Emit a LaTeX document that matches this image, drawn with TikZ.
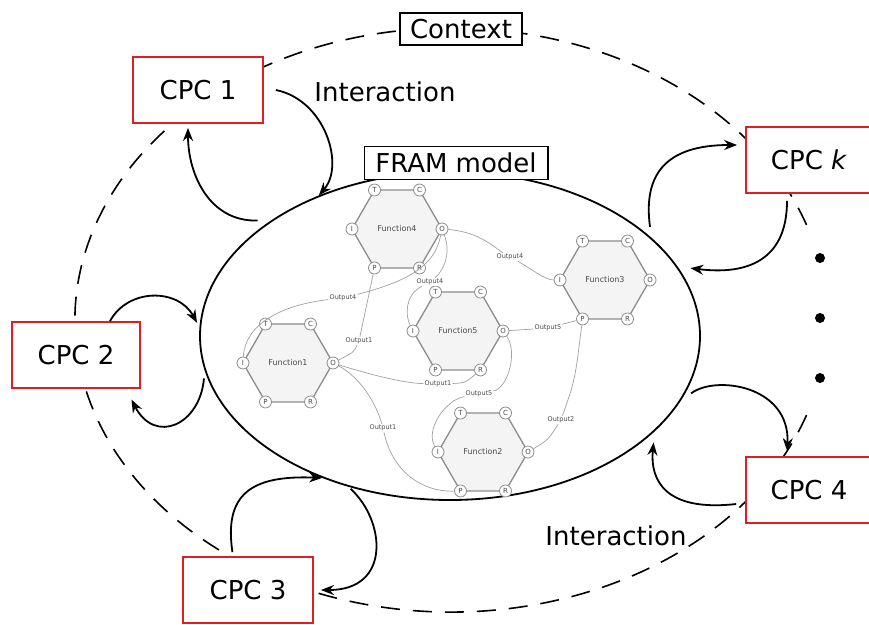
\documentclass[tikz,border=0pt]{standalone}
\usepackage{fontspec}
\setmainfont{DejaVu Sans}
\usetikzlibrary{arrows.meta,calc,shapes.geometric}
\definecolor{cpcred}{HTML}{DC1F26}
\definecolor{hexgray}{HTML}{8C8C8C}
\definecolor{hexfill}{HTML}{F4F4F4}
\definecolor{linkgray}{HTML}{A0A0A0}
\definecolor{textgray}{HTML}{4A4A4A}

\begin{document}
\begin{tikzpicture}[x=1pt,y=-1pt,
    cpc/.style={draw=cpcred,line width=1.8pt,fill=white,minimum width=130pt,
                minimum height=66pt,font=\fontsize{26}{30}\selectfont},
    tag/.style={draw,line width=1.6pt,fill=white,inner xsep=10pt,inner ysep=0pt,
                minimum height=32pt,font=\fontsize{26}{30}\selectfont},
    words/.style={font=\fontsize{26}{30}\selectfont},
    ctxline/.style={dashed,dash pattern=on 19pt off 13pt,line width=1.6pt},
    flow/.style={line width=1.8pt,-{Stealth[length=13pt,width=10pt]}},
    fnhex/.style={draw=hexgray,fill=hexfill,line width=1.3pt},
    fnname/.style={font=\fontsize{8}{9}\selectfont\color{textgray}},
    port/.style={circle,draw=hexgray,fill=white,line width=0.8pt,minimum size=12pt,
                 inner sep=0pt,font=\fontsize{7}{7}\selectfont\color{textgray}},
    outlbl/.style={fill=white,inner sep=1pt,font=\fontsize{6.5}{7}\selectfont\color{textgray}},
    link/.style={draw=linkgray,line width=0.7pt},
    dot/.style={circle,fill,inner sep=0pt,minimum size=10pt}]
  \useasboundingbox (0,0) rectangle (869,624);

  % context ring (open where the dots are) and model
  \draw[ctxline] (451,320) ++(-19:376 and 292)
    arc[start angle=-19,end angle=-90,x radius=376,y radius=292];
  \draw[ctxline] (451,320) ++(19:376 and 292)
    arc[start angle=19,end angle=270,x radius=376,y radius=292];
  \node[tag] (ctx) at (461,29) {Context};
  \node[ellipse,draw,line width=1.8pt,minimum width=500pt,minimum height=328pt] (model) at (450,336) {};
  \node[tag,inner xsep=11pt,minimum height=33pt] (framtag) at (456,163) {FRAM model};

  % FRAM functions
  \foreach \n/\cx/\cy in {4/397/229,1/288/363,5/458/331,3/605/280,2/483/452}{
    \filldraw[fnhex] (\cx,\cy) +(0:45) -- +(60:45) -- +(120:45) -- +(180:45)
      -- +(240:45) -- +(300:45) -- cycle;
    \node[fnname] (f\n) at (\cx,\cy) {Function\n};
    \foreach \p/\a in {O/0,R/60,P/120,I/180,T/240,C/300}
      \path (\cx,\cy) ++(\a:45) node[port] (f\n\p) {\p};
  }

  \node[outlbl] (o4a) at (510,257) {Output4};
  \node[outlbl] (o4b) at (430,282) {Output4};
  \node[outlbl] (o4c) at (343,298) {Output4};
  \node[outlbl] (o1a) at (359,341) {Output1};
  \node[outlbl] (o1b) at (438,384) {Output1};
  \node[outlbl] (o1c) at (383,428) {Output1};
  \node[outlbl] (o5a) at (548,328) {Output5};
  \node[outlbl] (o5b) at (479,394) {Output5};
  \node[outlbl] (o2) at (561,420) {Output2};

  \draw[link] (f4O) .. controls (480,232) and (495,248) .. (o4a);
  \draw[link] (o4a) .. controls (530,268) and (545,280) .. (f3I);
  \draw[link] (f4O) .. controls (452,255) and (442,272) .. (o4b);
  \draw[link] (o4b) .. controls (405,295) and (405,315) .. (f5I);
  \draw[link] (f4O) .. controls (436,258) and (422,278) .. (o4c);
  \draw[link] (o4c) .. controls (280,305) and (245,325) .. (f1I);
  \draw[link] (f4P) -- (o1a);
  \draw[link] (o1a) .. controls (354,352) .. (f1O);
  \draw[link] (f1O) .. controls (362,372) and (400,383) .. (o1b);
  \draw[link] (o1b) .. controls (465,383) .. (f5R);
  \draw[link] (f1O) .. controls (358,376) and (375,400) .. (o1c);
  \draw[link] (o1c) .. controls (392,470) and (420,492) .. (f2P);
  \draw[link] (f5O) -- (o5a);
  \draw[link] (o5a) -- (f3P);
  \draw[link] (f5O) .. controls (518,352) and (508,388) .. (o5b);
  \draw[link] (o5b) .. controls (445,400) and (425,430) .. (f2I);
  \draw[link] (f2O) .. controls (548,440) .. (o2);
  \draw[link] (o2) .. controls (575,380) .. (f3P);

  % CPCs
  \node[cpc] (cpc1) at (198,90) {CPC 1};
  \node[cpc,minimum width=128pt] (cpc2) at (76,355) {CPC 2};
  \node[cpc] (cpc3) at (248,590) {CPC 3};
  \node[cpc,minimum width=126pt] (cpc4) at (809,490) {CPC 4};
  \node[cpc,minimum width=126pt] (cpck) at (809,160) {CPC \textit{k}};
  \node[words] (int1) at (385,92) {Interaction};
  \node[words] (int2) at (616,536) {Interaction};

  \draw[flow] ([xshift=12pt]cpc1.east) .. controls (325,100) and (345,165) .. (model.133);
  \draw[flow,shorten <=14pt,shorten >=4pt] (model.147) .. controls (210,222) and (188,175) .. ([xshift=-10pt]cpc1.south);
  \draw[flow,shorten >=5pt] ([xshift=34pt]cpc2.north) .. controls (128,288) and (178,288) .. (model.178);
  \draw[flow,shorten <=8pt,shorten >=12pt] (model.188) .. controls (200,425) and (155,445) .. ([xshift=-15pt]cpc2.south east);
  \draw[flow,shorten <=4pt] ([xshift=-15pt]cpc3.north) .. controls (224,495) and (250,475) .. (model.228);
  \draw[flow,shorten <=3pt,shorten >=7pt] (model.236) .. controls (385,520) and (392,590) .. (cpc3.east);
  \draw[flow,shorten <=9pt,shorten >=11pt] ([yshift=-13pt]cpc4.west) .. controls (665,512) and (650,480) .. (model.-25);
  \draw[flow,shorten <=14pt,shorten >=5pt] (model.-16) .. controls (715,375) and (790,385) .. ([xshift=-22pt]cpc4.north);
  \draw[flow,shorten <=11pt,shorten >=8pt] (model.26) .. controls (643,175) and (665,145) .. ([yshift=15pt]cpck.west);
  \draw[flow,shorten <=7pt,shorten >=13pt] ([xshift=-22pt]cpck.south) .. controls (787,262) and (745,275) .. (model.17);

  \node[dot] (d1) at (820,258) {};
  \node[dot] (d2) at (820,318) {};
  \node[dot] (d3) at (820,378) {};
\end{tikzpicture}
\end{document}
